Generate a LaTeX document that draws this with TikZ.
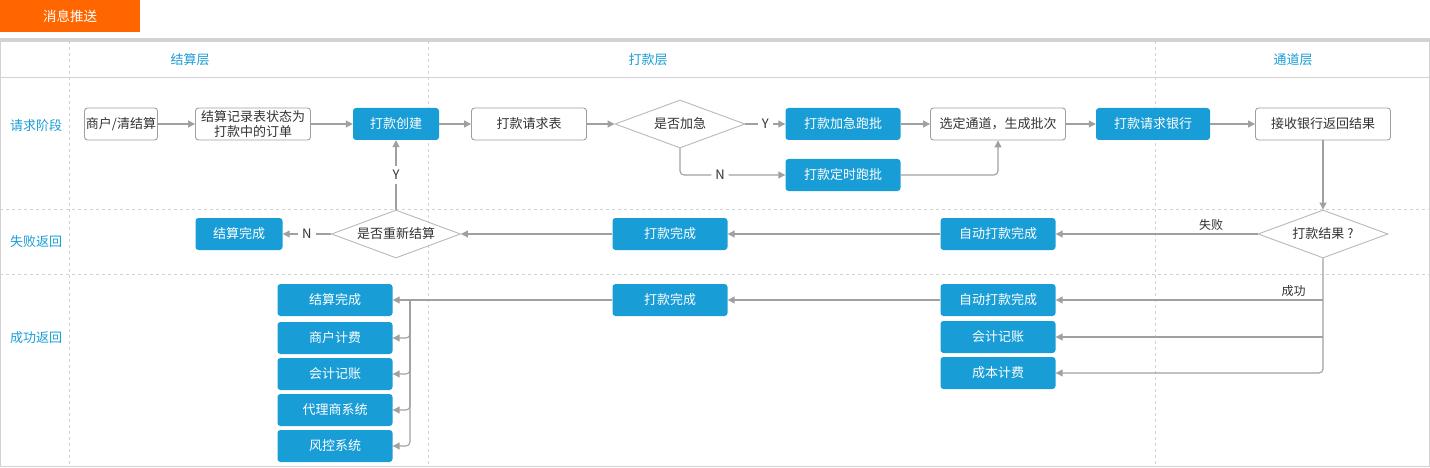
\documentclass[tikz,border=0pt]{standalone}
\usepackage{fontspec}
\setmainfont{Noto Sans CJK SC}
\usetikzlibrary{shapes.geometric,arrows.meta}
\definecolor{azul}{HTML}{199DD6}
\definecolor{naranja}{HTML}{FF6600}
\definecolor{linea}{HTML}{A0A0A0}
\definecolor{texto}{HTML}{333333}
\definecolor{rejilla}{HTML}{D2D2D2}
\begin{document}
\begin{tikzpicture}[x=1pt, y=-1pt,
    every node/.style={font=\fontsize{13}{14}\selectfont, text=texto},
    plainbox/.style={draw=gray!75, line width=0.9pt, rounded corners=3pt, fill=white, minimum height=32pt, inner sep=0pt, align=center},
    bluebox/.style={fill=azul, rounded corners=3pt, text=white, minimum height=32pt, inner sep=1pt},
    ask/.style={diamond, draw=gray!55, line width=0.9pt, fill=white, aspect=2.7, minimum width=130pt, minimum height=48pt, inner sep=0pt},
    flecha/.style={draw=linea, line width=1.1pt, -{Triangle[length=7pt,width=7pt]}},
    carril/.style={text=azul, font=\fontsize{13}{15}\selectfont},
    gap/.style={fill=white, inner sep=4pt}]
    \useasboundingbox (0,0) rectangle (1430,468);

    % Cabecera y rejilla de carriles
    \fill[naranja] (0,0) rectangle (140,32);
    \node[text=white, font=\fontsize{13.5}{15}\selectfont] (titulo) at (70,16) {消息推送};
    \draw[rejilla, line width=3pt] (0,39.5) -- (1430,39.5);
    \draw[rejilla] (0.5,41) rectangle (1429.5,466);
    \draw[rejilla] (0,77) -- (1430,77);
    \draw[rejilla, dashed] (0,209) -- (1430,209);
    \draw[rejilla, dashed] (0,274) -- (1430,274);
    \foreach \x in {69, 428, 1155}{
        \draw[rejilla, dashed] (\x,41) -- (\x,466);
    }
    \foreach \x/\t in {190/结算层, 648/打款层, 1293/通道层}{
        \node[carril] at (\x,60) {\t};
    }
    \foreach \y/\t in {126/请求阶段, 242/失败返回, 338/成功返回}{
        \node[carril] at (36,\y) {\t};
    }

    % Etapa de solicitud
    \node[plainbox, minimum width=73pt] (shanghu) at (121,124) {商户/清结算};
    \node[plainbox, minimum width=115pt, font=\fontsize{13}{15}\selectfont] (jilu) at (253,124) {结算记录表状态为\\打款中的订单};
    \node[bluebox, minimum width=86pt] (chuangjian) at (396,124) {打款创建};
    \node[plainbox, minimum width=115pt] (qingqiubiao) at (529,124) {打款请求表};
    \node[ask] (jiaji) at (680,124) {是否加急};
    \node[bluebox, minimum width=115pt] (jiajipaopi) at (843,124) {打款加急跑批};
    \node[bluebox, minimum width=115pt] (dingshi) at (843,175) {打款定时跑批};
    \node[plainbox, minimum width=135pt] (tongdao) at (998,124) {选定通道，生成批次};
    \node[bluebox, minimum width=114pt] (yinhang) at (1153,124) {打款请求银行};
    \node[plainbox, minimum width=135pt] (jieshou) at (1323,124) {接收银行返回结果};

    % Retorno con fallo
    \node[ask] (jieguo) at (1323,234) {打款结果 ?};
    \node[bluebox, minimum width=115pt] (zidong1) at (998,234) {自动打款完成};
    \node[bluebox, minimum width=115pt] (wancheng1) at (670,234) {打款完成};
    \node[ask, minimum width=129pt] (chongxin) at (396,234) {是否重新结算};
    \node[bluebox, minimum width=87pt] (jiesuan1) at (239,234) {结算完成};

    % Retorno con exito
    \node[bluebox, minimum width=115pt] (zidong2) at (998,300) {自动打款完成};
    \node[bluebox, minimum width=115pt] (kuaiji2) at (998,337) {会计记账};
    \node[bluebox, minimum width=115pt] (chengben) at (998,373) {成本计费};
    \node[bluebox, minimum width=115pt] (wancheng2) at (670,300) {打款完成};
    \foreach \n/\y/\t in {jiesuan2/300/结算完成, shanghu2/338/商户计费, kuaiji3/374/会计记账,
                          daili/410/代理商系统, fengkong/446/风控系统}{
        \node[bluebox, minimum width=115pt] (\n) at (335,\y) {\t};
    }

    \draw[flecha] (shanghu) -- (jilu);
    \draw[flecha] (jilu) -- (chuangjian);
    \draw[flecha] (chuangjian) -- (qingqiubiao);
    \draw[flecha] (qingqiubiao) -- (jiaji);
    \draw[flecha] (jiaji) -- node[gap] {Y} (jiajipaopi);
    \draw[flecha, rounded corners=4pt] (jiaji.south) |- node[gap, pos=0.69] {N} (dingshi.west);
    \draw[flecha] (jiajipaopi) -- (tongdao);
    \draw[flecha, rounded corners=4pt] (dingshi.east) -| (tongdao.south);
    \draw[flecha] (tongdao) -- (yinhang);
    \draw[flecha] (yinhang) -- (jieshou);
    \draw[flecha] (jieshou) -- (jieguo);

    \draw[flecha] (jieguo) -- node[above, pos=0.23, font=\fontsize{12}{14}\selectfont] {失败} (zidong1);
    \draw[flecha] (zidong1) -- (wancheng1);
    \draw[flecha] (wancheng1) -- (chongxin);
    \draw[flecha] (chongxin) -- node[gap] {N} (jiesuan1);
    \draw[flecha] (chongxin) -- node[gap] {Y} (chuangjian);

    \draw[flecha, rounded corners=4pt] (jieguo.south) |- (chengben.east);
    \draw[flecha] (jieguo.south |- zidong2) -- node[above, pos=0.11, font=\fontsize{12}{14}\selectfont] {成功} (zidong2.east);
    \draw[flecha] (jieguo.south |- kuaiji2) -- (kuaiji2.east);

    \draw[flecha] (zidong2) -- (wancheng2);
    \draw[flecha] (wancheng2) -- (jiesuan2);
    \coordinate (bus) at (410,300);
    \foreach \n in {shanghu2, kuaiji3, daili, fengkong}{
        \draw[flecha, rounded corners=4pt] (bus) |- (\n.east);
    }
\end{tikzpicture}
\end{document}
